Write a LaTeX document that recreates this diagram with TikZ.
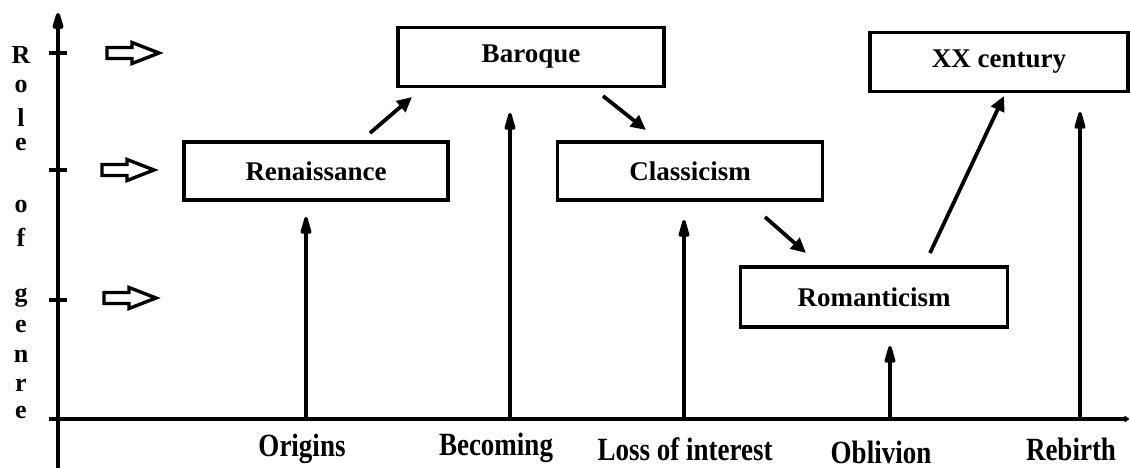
\documentclass[tikz,border=0pt]{standalone}
\usepackage{fontspec}
\setmainfont{Liberation Serif}
\usetikzlibrary{arrows.meta}
\begin{document}
\begin{tikzpicture}[x=1pt,y=-1pt,
  box/.style={draw,line width=3.8pt,rectangle,inner sep=0pt,font=\fontsize{27}{30}\selectfont\bfseries},
  axis/.style={line width=4pt},
  vup/.style={line width=3.4pt,-{Triangle[length=22pt,width=11pt,round]}},
  diag/.style={line width=3.8pt,-{Triangle[length=15pt,width=14pt]}},
  letter/.style={font=\fontsize{26}{28}\selectfont\bfseries,inner sep=0pt},
  lab/.style={font=\fontsize{27}{30}\selectfont\bfseries,inner sep=0pt},
  hollow/.style={draw,line width=3.4pt,line join=miter}]
\useasboundingbox (0,0) rectangle (1130,468);
% axes
\coordinate (yb) at (58,468);
\coordinate (yt) at (58,13);
\coordinate (xl) at (50,419);
\coordinate (xr) at (1129,419);
\draw[axis,-{Triangle[length=22pt,width=11pt,round]}] (yb) -- (yt);
\draw[axis,-{Triangle[length=5pt,width=7pt,round]}] (xl) -- (xr);
% ticks
\foreach \ty/\n in {53/t1,170/t2,300/t3,419/t4}{
  \coordinate (\n a) at (49,\ty); \coordinate (\n b) at (67,\ty);
  \draw[line width=3.6pt] (\n a) -- (\n b);
}
% y label
\foreach \ch/\yy in {R/55,o/87,l/117,e/145,o/207,f/237,g/298,e/327,n/356,r/385,e/413}{
  \node[letter] at (21,\yy) {\ch};
}
% hollow arrows
\foreach \ax/\ay in {107/53,102/170,104/298}{
  \draw[hollow] (\ax,\ay-5.5) -- ++(25,0) -- ++(0,-5) -- ++(27,10.5) -- ++(-27,10.5) -- ++(0,-5) -- ++(-25,0) -- cycle;
}
% boxes
\node[box,minimum width=266pt,minimum height=59pt] (bar) at (531,57) {Baroque};
\node[box,minimum width=264pt,minimum height=58pt] (ren) at (316,171) {Renaissance};
\node[box,minimum width=265pt,minimum height=58pt] (cla) at (690,171) {Classicism};
\node[box,minimum width=267pt,minimum height=60pt] (rom) at (874,297) {Romanticism};
\node[box,minimum width=258pt,minimum height=59pt] (xx) at (999,62) {XX century};
% diagonal arrows
\coordinate (d1a) at (370,133); \coordinate (d1b) at (412,97);
\coordinate (d2a) at (603,96); \coordinate (d2b) at (646,130);
\coordinate (d3a) at (765,217); \coordinate (d3b) at (806,253);
\coordinate (d4a) at (930,253); \coordinate (d4b) at (1004,96);
\draw[diag] (d1a) -- (d1b);
\draw[diag] (d2a) -- (d2b);
\draw[diag] (d3a) -- (d3b);
\draw[diag] (d4a) -- (d4b);
% vertical arrows
\foreach \vx/\vy/\n in {306/217/v1,510/113/v2,684/220/v3,890/346/v4,1080/112/v5}{
  \coordinate (\n a) at (\vx,419); \coordinate (\n b) at (\vx,\vy);
  \draw[vup] (\n a) -- (\n b);
}
% bottom labels
\node[lab] (l1) at (302,449) {\scalebox{1}[1.2]{Origins}};
\node[lab] (l2) at (496,448) {\scalebox{1}[1.2]{Becoming}};
\node[lab] (l3) at (685,449) {\scalebox{1}[1.2]{Loss of interest}};
\node[lab] (l4) at (881,452) {\scalebox{1}[1.2]{Oblivion}};
\node[lab] (l5) at (1071,449) {\scalebox{1}[1.2]{Rebirth}};
\end{tikzpicture}
\end{document}
